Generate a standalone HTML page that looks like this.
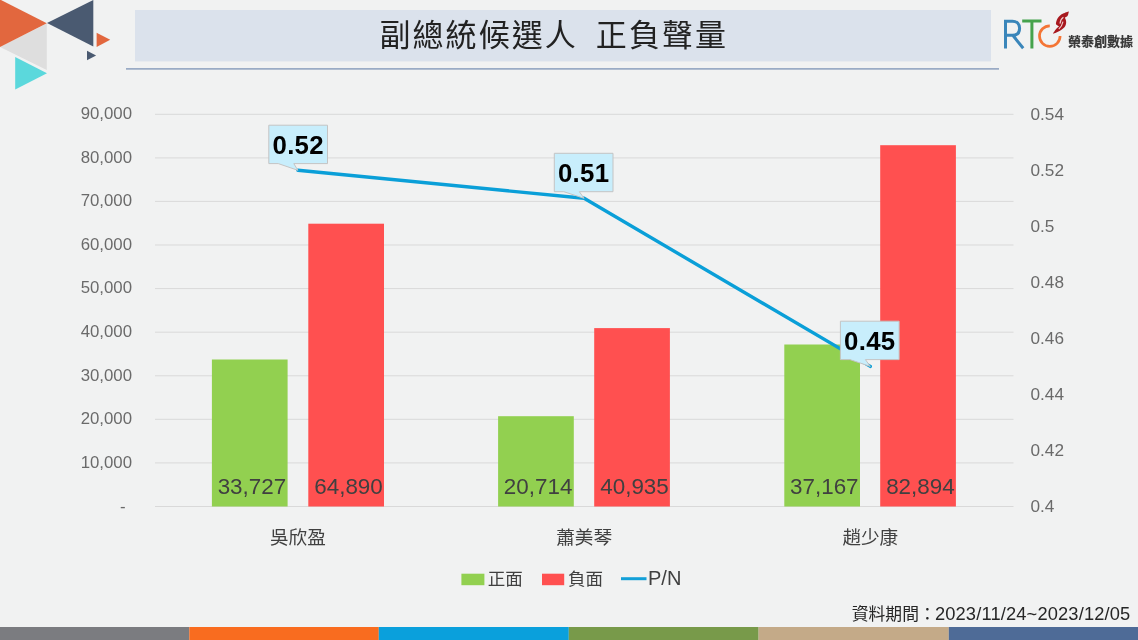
<!DOCTYPE html>
<html><head><meta charset="utf-8">
<style>
html,body{margin:0;padding:0;}
body{width:1138px;height:640px;overflow:hidden;background:#f1f2f2;position:relative;font-family:"Liberation Sans","Noto Sans CJK TC",sans-serif;}
svg{position:absolute;left:0;top:0;}
.ax{font-family:"Liberation Sans",sans-serif;font-size:16.8px;fill:#6a6a6a;}
.val{font-family:"Liberation Sans",sans-serif;font-size:22.4px;fill:#404040;}
.cat{font-family:"Liberation Sans","Noto Sans CJK TC",sans-serif;font-size:18.6px;fill:#404040;}
.co{font-family:"Liberation Sans",sans-serif;font-size:25.8px;font-weight:bold;fill:#000;letter-spacing:0.3px;}
.title{font-family:"Liberation Sans","Noto Sans CJK TC",sans-serif;font-weight:400;font-size:31px;letter-spacing:2.06px;fill:#222;}
.leg{font-family:"Liberation Sans","Noto Sans CJK TC",sans-serif;font-size:17.5px;fill:#404040;}
.date{font-family:"Liberation Sans","Noto Sans CJK TC",sans-serif;font-size:16.8px;fill:#262626;}
.dnum{font-size:18.3px;letter-spacing:0.15px;}
.logo{font-family:"Liberation Sans","Noto Sans CJK TC",sans-serif;font-size:13px;font-weight:900;fill:#3a3a3a;}
</style></head>
<body>
<svg width="1138" height="640" viewBox="0 0 1138 640">
<!-- corner decoration -->
<defs><filter id="bl" x="-0.2" y="-0.2" width="1.4" height="1.4"><feGaussianBlur stdDeviation="0.7"/></filter></defs>
<polygon points="0,47 46.8,23.5 46.8,70" fill="#dedede" filter="url(#bl)"/>
<polygon points="0,-0.5 46.8,23.3 0,47" fill="#e2673e"/>
<polygon points="47,23 93.3,0 93.3,46.4" fill="#4a5a71"/>
<polygon points="15.2,57 47,73.2 15.2,89.4" fill="#5bd8dc"/>
<polygon points="96.6,32.8 110.2,39.8 96.6,46.9" fill="#e2673e"/>
<polygon points="87,50.8 96.1,55.5 87,60.2" fill="#4a5a71"/>
<!-- title -->
<rect x="135" y="10" width="856" height="51.4" fill="#dbe2ec"/>
<line x1="126" y1="68.9" x2="999" y2="68.9" stroke="#9aabc5" stroke-width="1.9"/>
<text x="379.5" y="46.2" class="title">副總統候選人<tspan dx="18">正負聲量</tspan></text>
<!-- logo -->
<g fill="none" stroke-width="3">
<path d="M1005.5,48.4 V21.3 H1012.5 C1017.3,21.3 1019.6,24.3 1019.6,28.3 C1019.6,32.4 1017.3,35.3 1012.5,35.3 H1005.5 M1012.8,35.3 L1023.2,48.2" stroke="#3a86ba"/>
<path d="M1022.2,21 H1041.5 M1031.9,21 V48.4" stroke="#45a24c"/>
<path d="M1049.8,25.8 A10.3,10.3 0 1 0 1060.1,36.1" stroke="#f47535" stroke-width="2.7"/>
</g>
<path d="M1068.80,11.56 C1069.01,11.64 1068.13,14.62 1068.02,14.88 C1067.62,15.76 1066.97,16.35 1066.45,16.84 C1065.93,17.32 1064.99,17.29 1064.89,17.81 C1064.86,17.97 1065.80,19.71 1065.87,19.96 C1066.08,20.81 1066.24,21.88 1066.14,22.89 C1066.04,23.90 1065.75,25.10 1065.28,26.02 C1064.81,26.93 1064.21,27.58 1063.33,28.36 C1062.45,29.14 1061.24,29.99 1060.01,30.70 C1058.77,31.42 1057.08,32.17 1055.91,32.66 C1055.55,32.80 1053.02,33.75 1052.98,33.63 C1052.94,33.52 1054.92,30.60 1055.12,30.31 C1055.81,29.37 1056.46,28.65 1057.08,27.97 C1057.70,27.29 1059.00,26.80 1058.84,26.21 C1058.79,26.04 1056.22,24.70 1056.10,24.45 C1055.69,23.64 1056.11,22.37 1056.38,21.33 C1056.64,20.29 1057.09,19.15 1057.66,18.20 C1058.24,17.26 1058.80,16.48 1059.81,15.66 C1060.82,14.85 1062.22,14.00 1063.72,13.32 C1064.17,13.12 1068.58,11.48 1068.80,11.56 Z" fill="#a8191f"/>
<path d="M1063.4,17.2 C1061.2,18.6 1060.2,20.8 1060,23.6 M1063,21.6 C1062.3,24.8 1061,27.2 1058.8,29" fill="none" stroke="#efd2d2" stroke-width="1.1"/>
<text x="1068" y="45.9" class="logo">榮泰創數據</text>
<line x1="155" x2="1013.5" y1="506.5" y2="506.5" stroke="#d9d9d9" stroke-width="1"/>
<line x1="155" x2="1013.5" y1="462.9" y2="462.9" stroke="#d9d9d9" stroke-width="1"/>
<line x1="155" x2="1013.5" y1="419.3" y2="419.3" stroke="#d9d9d9" stroke-width="1"/>
<line x1="155" x2="1013.5" y1="375.8" y2="375.8" stroke="#d9d9d9" stroke-width="1"/>
<line x1="155" x2="1013.5" y1="332.2" y2="332.2" stroke="#d9d9d9" stroke-width="1"/>
<line x1="155" x2="1013.5" y1="288.6" y2="288.6" stroke="#d9d9d9" stroke-width="1"/>
<line x1="155" x2="1013.5" y1="245.0" y2="245.0" stroke="#d9d9d9" stroke-width="1"/>
<line x1="155" x2="1013.5" y1="201.4" y2="201.4" stroke="#d9d9d9" stroke-width="1"/>
<line x1="155" x2="1013.5" y1="157.9" y2="157.9" stroke="#d9d9d9" stroke-width="1"/>
<line x1="155" x2="1013.5" y1="114.3" y2="114.3" stroke="#d9d9d9" stroke-width="1"/>
<text x="132" y="467.7" text-anchor="end" class="ax">10,000</text>
<text x="132" y="424.1" text-anchor="end" class="ax">20,000</text>
<text x="132" y="380.6" text-anchor="end" class="ax">30,000</text>
<text x="132" y="337.0" text-anchor="end" class="ax">40,000</text>
<text x="132" y="293.4" text-anchor="end" class="ax">50,000</text>
<text x="132" y="249.8" text-anchor="end" class="ax">60,000</text>
<text x="132" y="206.2" text-anchor="end" class="ax">70,000</text>
<text x="132" y="162.7" text-anchor="end" class="ax">80,000</text>
<text x="132" y="119.1" text-anchor="end" class="ax">90,000</text>
<text x="125.5" y="511.7" text-anchor="end" class="ax">-</text>
<text x="1030.5" y="119.7" class="ax" style="font-size:17.2px">0.54</text>
<text x="1030.5" y="175.7" class="ax" style="font-size:17.2px">0.52</text>
<text x="1030.5" y="231.8" class="ax" style="font-size:17.2px">0.5</text>
<text x="1030.5" y="287.8" class="ax" style="font-size:17.2px">0.48</text>
<text x="1030.5" y="343.8" class="ax" style="font-size:17.2px">0.46</text>
<text x="1030.5" y="399.8" class="ax" style="font-size:17.2px">0.44</text>
<text x="1030.5" y="455.9" class="ax" style="font-size:17.2px">0.42</text>
<text x="1030.5" y="511.9" class="ax" style="font-size:17.2px">0.4</text>
<rect x="211.9" y="359.5" width="75.7" height="147.0" fill="#92d050"/>
<rect x="308.3" y="223.7" width="75.7" height="282.8" fill="#ff5050"/>
<text x="251.9" y="494.2" text-anchor="middle" class="val">33,727</text>
<text x="348.5" y="494.2" text-anchor="middle" class="val">64,890</text>
<text x="297.9" y="544" text-anchor="middle" class="cat">吳欣盈</text>
<rect x="498.1" y="416.2" width="75.7" height="90.3" fill="#92d050"/>
<rect x="594.2" y="328.1" width="75.7" height="178.4" fill="#ff5050"/>
<text x="538.1" y="494.2" text-anchor="middle" class="val">20,714</text>
<text x="634.5" y="494.2" text-anchor="middle" class="val">40,935</text>
<text x="584.1" y="544" text-anchor="middle" class="cat">蕭美琴</text>
<rect x="784.3" y="344.5" width="75.7" height="162.0" fill="#92d050"/>
<rect x="880.2" y="145.2" width="75.7" height="361.3" fill="#ff5050"/>
<text x="824.3" y="494.2" text-anchor="middle" class="val">37,167</text>
<text x="920.4" y="494.2" text-anchor="middle" class="val">82,894</text>
<text x="870.3" y="544" text-anchor="middle" class="cat">趙少康</text>
<polyline points="297.9,170.3 584.1,198.3 870.3,366.4" fill="none" stroke="#0a9fd8" stroke-width="3.4" stroke-linejoin="round" stroke-linecap="round"/>
<path d="M268.8,125.2 H327.5 V163.6 H293.8 L297.9,170.3 L278.3,163.6 H268.8 Z" fill="#c8eefc" stroke="#c4c4c4" stroke-width="1"/>
<text x="298.2" y="154.2" text-anchor="middle" class="co">0.52</text>
<path d="M554.3,153.3 H613.0 V191.70000000000002 H579.3 L584.1,198.3 L563.8,191.70000000000002 H554.3 Z" fill="#c8eefc" stroke="#c4c4c4" stroke-width="1"/>
<text x="583.6" y="182.3" text-anchor="middle" class="co">0.51</text>
<path d="M840.4,321.2 H899.1 V359.59999999999997 H865.4 L870.3,366.4 L849.9,359.59999999999997 H840.4 Z" fill="#c8eefc" stroke="#c4c4c4" stroke-width="1"/>
<text x="869.8" y="350.2" text-anchor="middle" class="co">0.45</text>
<!-- legend -->
<rect x="461.4" y="573.7" width="23" height="11.5" fill="#92d050"/>
<text x="487.7" y="584.5" class="leg">正面</text>
<rect x="542" y="573.7" width="22.2" height="11.5" fill="#ff5050"/>
<text x="568" y="584.5" class="leg">負面</text>
<line x1="621" y1="578.7" x2="646.5" y2="578.7" stroke="#13a0d8" stroke-width="3"/>
<text x="648" y="585.2" class="leg" style="font-size:20px">P/N</text>
<!-- date -->
<text x="851.8" y="620.2" class="date">資料期間：<tspan class="dnum" dx="-0.8">2023/11/24~2023/12/05</tspan></text>
<!-- footer -->
<rect x="0" y="627" width="189.3" height="13" fill="#7b7c80"/>
<rect x="189.3" y="627" width="189.5" height="13" fill="#f96c1f"/>
<rect x="378.8" y="627" width="190.0" height="13" fill="#0aa0dc"/>
<rect x="568.8" y="627" width="189.8" height="13" fill="#789a4a"/>
<rect x="758.6" y="627" width="190.2" height="13" fill="#c4aa88"/>
<rect x="948.8" y="627" width="189.2" height="13" fill="#4e6b97"/>
</svg>
</body></html>
